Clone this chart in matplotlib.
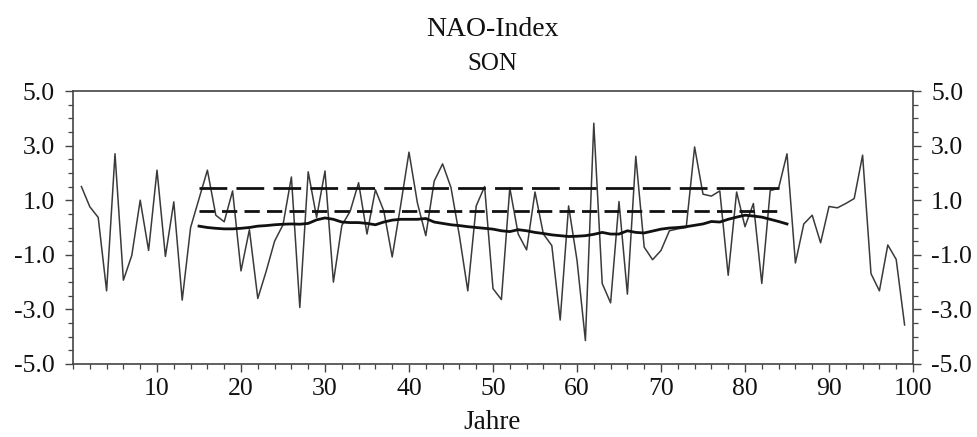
import numpy as np
import matplotlib
matplotlib.use("Agg")
import matplotlib.pyplot as plt
from matplotlib.ticker import MultipleLocator

plt.rcParams['font.family'] = ['Liberation Serif', 'DejaVu Serif']

# NAO index (SON), years 1..99
years = np.arange(1, 100)
nao = [1.5, 0.76, 0.37, -2.32, 2.7, -1.93, -1.02, 1.0, -0.84, 2.1,
       -1.06, 0.94, -2.66, 0.0, 1.05, 2.1, 0.45, 0.21, 1.34, -1.59,
       -0.08, -2.6, -1.6, -0.5, 0.1, 1.85, -2.93, 2.04, 0.37, 2.07,
       -2.0, 0.07, 0.6, 1.64, -0.24, 1.38, 0.61, -1.08, 0.8, 2.76,
       0.9, -0.3, 1.7, 2.33, 1.46, -0.3, -2.32, 0.79, 1.5, -2.24,
       -2.64, 1.45, -0.24, -0.82, 1.3, -0.24, -0.66, -3.39, 0.79, -1.2,
       -4.14, 3.82, -2.05, -2.76, 0.95, -2.44, 2.61, -0.72, -1.18, -0.84,
       -0.12, -0.05, 0.0, 2.95, 1.22, 1.15, 1.34, -1.75, 1.3, 0.03,
       0.88, -2.05, 1.35, 1.44, 2.7, -1.3, 0.13, 0.45, -0.56, 0.77,
       0.72, 0.88, 1.06, 2.65, -1.69, -2.32, -0.64, -1.17, -3.57]

# running mean, years 15..85
smooth_years = np.arange(15, 86)
smooth = [0.05, 0.0, -0.03, -0.05, -0.05, -0.03, 0.0, 0.05, 0.07, 0.1,
          0.12, 0.13, 0.12, 0.15, 0.28, 0.35, 0.3, 0.2, 0.18, 0.18,
          0.15, 0.1, 0.2, 0.27, 0.3, 0.3, 0.3, 0.33, 0.2, 0.15,
          0.1, 0.07, 0.03, 0.0, -0.03, -0.06, -0.12, -0.15, -0.08, -0.12,
          -0.18, -0.22, -0.27, -0.3, -0.33, -0.32, -0.3, -0.25, -0.18, -0.24,
          -0.24, -0.12, -0.18, -0.2, -0.13, -0.06, -0.02, 0.0, 0.03, 0.08,
          0.13, 0.22, 0.2, 0.3, 0.38, 0.45, 0.42, 0.38, 0.3, 0.22, 0.13]

# significance levels of running std
level_years = [15, 84]
level_high = 1.46
level_low = 0.59

yticks = [5.0, 3.0, 1.0, -1.0, -3.0, -5.0]

fig = plt.figure(figsize=(9.77, 4.37), dpi=100)
ax = fig.add_axes([73 / 977, 1 - 364 / 437, (913 - 73) / 977, (364 - 91) / 437])

ax.plot(years, nao, color='#3a3a3a', lw=1.1)
ax.plot(smooth_years, smooth, color='#111111', lw=2.0)
ax.plot(level_years, [level_high] * 2, color='#111111', lw=2.0, dashes=(10, 3.3))
ax.plot(level_years, [level_low] * 2, color='#111111', lw=2.0, dashes=(5.5, 2.6))

ax.set_xlim(0, 100)
ax.set_ylim(-5, 5)
ax.xaxis.set_major_locator(MultipleLocator(10))
ax.xaxis.set_minor_locator(MultipleLocator(2))
ax.set_yticks(yticks)
ax.set_yticklabels([f"{v:.1f}" for v in yticks])
ax.yaxis.set_minor_locator(MultipleLocator(0.5))
ax.set_xticks([t for t in range(10, 101, 10)])

ax.tick_params(axis='both', which='major', direction='out', length=6, width=1.0,
               color='#444444', labelsize=18.5, labelcolor='#111111')
ax.tick_params(axis='both', which='minor', direction='out', length=3.5, width=0.9,
               color='#444444')
ax.tick_params(axis='y', which='both', left=True, right=True, labelleft=True,
               labelright=True, pad=7)
ax.tick_params(axis='x', which='both', top=False, pad=4)

for s in ax.spines.values():
    s.set_color('#444444')
    s.set_linewidth(1.2)

fig.text(492 / 977, 1 - 36.5 / 437, "NAO-Index", ha='center', va='baseline',
         fontsize=20, color='#111111')
fig.text(492 / 977, 1 - 70 / 437, "SON", ha='center', va='baseline',
         fontsize=18, color='#111111')
fig.text(492 / 977, 1 - 429 / 437, "Jahre", ha='center', va='baseline',
         fontsize=19.5, color='#111111')

fig.savefig("out.png", dpi=100)
